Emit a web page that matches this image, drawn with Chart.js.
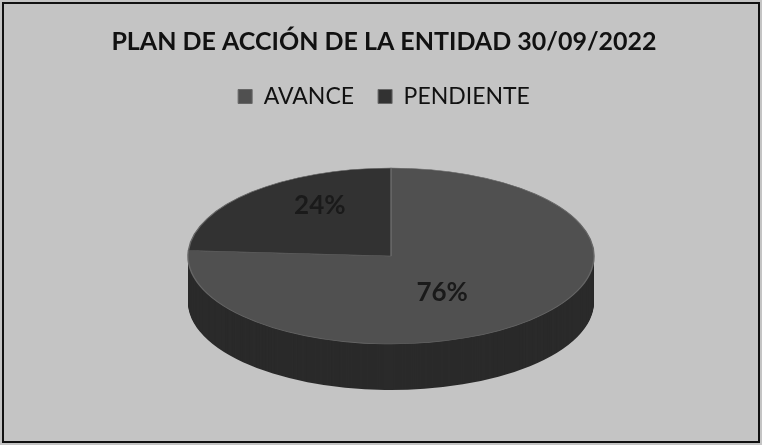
<!DOCTYPE html>
<html>
<head>
<meta charset="utf-8">
<script src="https://cdn.jsdelivr.net/npm/chart.js@4"></script>
<style>
html,body{margin:0;padding:0;background:#c4c4c4}
#wrap{width:762px;height:445px;position:relative}
</style>
</head>
<body>
<div id="wrap"><canvas id="pie"></canvas></div>
<script>
const titleText = "PLAN DE ACCIÓN DE LA ENTIDAD 30/09/2022"
const labels = ["AVANCE", "PENDIENTE"]
const values = [76, 24]
const topColors = ["#505050", "#323232"]
const sideColors = ["#2a2a2a", "#222222"]

// look of the tilted pie
const RX = 203, RY = 88, DEPTH = 46, SHIFT_X = 7

function squash(ctx, arc){
    const r = arc.outerRadius
    ctx.translate(arc.x + SHIFT_X, arc.y)
    ctx.scale(RX / r, RY / r)
    ctx.translate(-arc.x, -arc.y)
}

const pie3d = {
    id: "pie3d",
    beforeDraw(chart){
        const ctx = chart.ctx
        ctx.save()
        ctx.fillStyle = "#c4c4c4"
        ctx.fillRect(0, 0, chart.width, chart.height)
        ctx.strokeStyle = "#111"
        ctx.lineWidth = 2
        ctx.strokeRect(3, 3, chart.width - 6, chart.height - 6)
        ctx.restore()
    },
    beforeDatasetsDraw(chart){
        const ctx = chart.ctx
        const arcs = chart.getDatasetMeta(0).data
        // side wall: the same arcs, darker, pushed down layer by layer
        for (let d = DEPTH; d > 0; d--){
            ctx.save()
            ctx.translate(0, d)
            squash(ctx, arcs[0])
            arcs.forEach((arc, i) => {
                const side = Object.create(arc)
                side.options = Object.assign({}, arc.options, {backgroundColor: sideColors[i], borderWidth: 0})
                side.draw(ctx)
            })
            ctx.restore()
        }
        ctx.save()
        squash(ctx, arcs[0])
    },
    afterDatasetsDraw(chart){
        const ctx = chart.ctx
        ctx.restore()
        const arcs = chart.getDatasetMeta(0).data
        ctx.save()
        ctx.font = "bold 26px Lato"
        ctx.fillStyle = "#1a1a1a"
        ctx.textAlign = "center"
        ctx.textBaseline = "middle"
        arcs.forEach((arc, i) => {
            const mid = (arc.startAngle + arc.endAngle) / 2
            const px = arc.x + SHIFT_X - 10 + Math.cos(mid) * RX * 0.44
            const py = arc.y - 7 + Math.sin(mid) * RY * 0.68
            ctx.fillText(values[i] + "%", px, py)
        })
        ctx.restore()
    }
}

new Chart(document.getElementById("pie"), {
    type: "pie",
    data: {
        labels: labels,
        datasets: [{
            data: values,
            backgroundColor: topColors,
            borderColor: "#666",
            borderWidth: 1,
            clip: false
        }]
    },
    options: {
        responsive: true,
        maintainAspectRatio: false,
        animation: false,
        events: [],
        layout: {padding: {left: 6, right: 0, top: 0, bottom: 51}},
        plugins: {
            title: {
                display: true,
                text: titleText,
                color: "#111",
                font: {family: "Lato", size: 25, weight: "bold"},
                padding: {top: 27, bottom: 4}
            },
            legend: {
                position: "top",
                labels: {
                    color: "#111",
                    font: {family: "Lato", size: 23},
                    boxWidth: 14,
                    boxHeight: 14,
                    padding: 24
                }
            },
            tooltip: {enabled: false}
        }
    },
    plugins: [pie3d]
})
</script>
</body>
</html>
